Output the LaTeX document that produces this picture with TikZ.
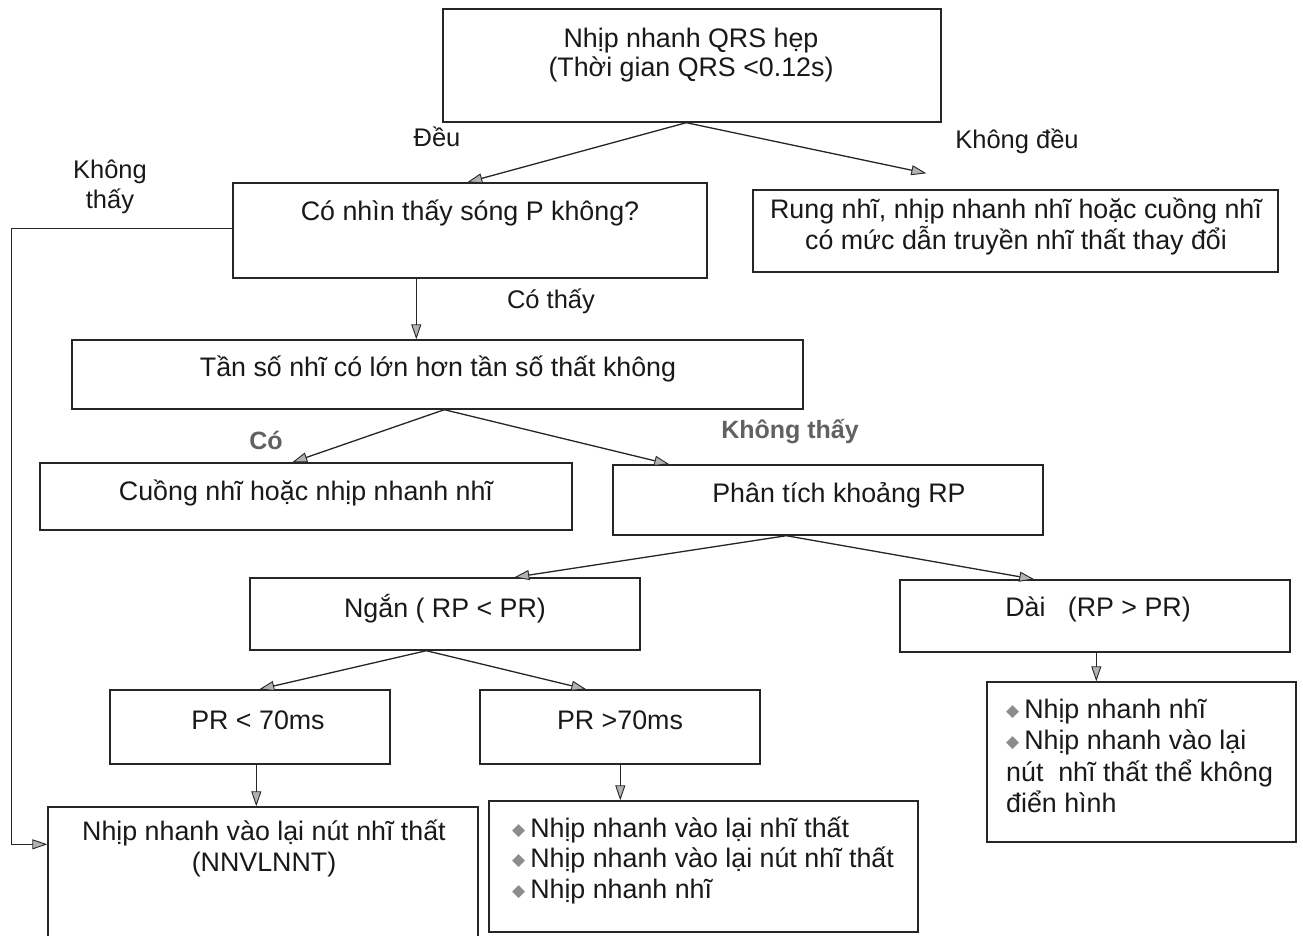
\documentclass[tikz,border=0pt]{standalone}
\usepackage{fontspec}
\setmainfont{Liberation Sans}
\newfontfamily\symfont{DejaVu Sans}
\usetikzlibrary{arrows.meta,fit}
% small grey diamond used as list bullet
\newcommand\bulletmark{\raisebox{2pt}{\textcolor{black!45}{\symfont\fontsize{17}{17}\selectfont ◆}}\hspace{5pt}}

\begin{document}
\begin{tikzpicture}[x=1pt,y=-1pt,
  frame/.style={draw=black!85, line width=1.4pt, inner sep=0pt},
  txt/.style={inner sep=0pt, align=center, text=black!90, font=\fontsize{26.8}{31}\selectfont},
  toptxt/.style={txt, font=\fontsize{26.8}{29}\selectfont},
  listtxt/.style={inner sep=0pt, align=left, anchor=west, text=black!90},
  lbl/.style={inner sep=0pt, align=center, text=black!90, font=\fontsize{25.5}{30}\selectfont},
  boldlbl/.style={inner sep=0pt, text=black!62, font=\fontsize{25}{30}\selectfont\bfseries},
  flow/.style={draw=black!85, line width=1.3pt,
    -{Triangle[length=15pt,width=10pt,fill=black!30,line width=0.9pt]}},
]
\clip (0,0) rectangle (1303,935);
\fill[white] (0,0) rectangle (1303,935);

% boxes
\node[frame, fit={(443,9) (941,122)}] (a) {};
\node[frame, fit={(233,183) (707,278)}] (b) {};
\node[frame, fit={(753,190) (1278,272)}] (c) {};
\node[frame, fit={(72,340) (803,409)}] (d) {};
\node[frame, fit={(40,463) (572,530)}] (e) {};
\node[frame, fit={(613,465) (1043,535)}] (g) {};
\node[frame, fit={(250,578) (640,650)}] (h) {};
\node[frame, fit={(900,580) (1290,652)}] (i) {};
\node[frame, fit={(987,682) (1296,842)}] (j) {};
\node[frame, fit={(110,690) (390,764)}] (k) {};
\node[frame, fit={(480,690) (760,764)}] (l) {};
\node[frame, fit={(48,807) (478,970)}] (f) {};
\node[frame, fit={(489,801) (918,932)}] (m) {};

% box texts
\node[toptxt] (a-t) at (691,55) {Nhịp nhanh QRS hẹp\\(Thời gian QRS <0.12s)};
\node[txt] (b-t) at (470,213) {Có nhìn thấy sóng P không?};
\node[txt] (c-t) at (1016,226) {Rung nhĩ, nhịp nhanh nhĩ hoặc cuồng nhĩ\\có mức dẫn truyền nhĩ thất thay đổi};
\node[txt] (d-t) at (438,369) {Tần số nhĩ có lớn hơn tần số thất không};
\node[txt] (e-t) at (306,493) {Cuồng nhĩ hoặc nhịp nhanh nhĩ};
\node[txt] (g-t) at (839,495) {Phân tích khoảng RP};
\node[txt] (h-t) at (445,609) {Ngắn ( RP < PR)};
\node[txt] (i-t) at (1098,609) {Dài~~~(RP > PR)};
\node[txt] (k-t) at (258,720) {PR < 70ms};
\node[txt] (l-t) at (620,720) {PR >70ms};
\node[txt] (f-t) at (264,848) {Nhịp nhanh vào lại nút nhĩ thất\\(NNVLNNT)};
\node[listtxt, font=\fontsize{26.8}{30.5}\selectfont] (m-t) at (512,860)
  {\bulletmark Nhịp nhanh vào lại nhĩ thất\\
   \bulletmark Nhịp nhanh vào lại nút nhĩ thất\\
   \bulletmark Nhịp nhanh nhĩ};
\node[listtxt, font=\fontsize{26.8}{31.3}\selectfont] (j-t) at (1006,756)
  {\bulletmark Nhịp nhanh nhĩ\\
   \bulletmark Nhịp nhanh vào lại\\
   nút~~nhĩ thất thể không\\
   điển hình};

% branch labels
\node[lbl] (l-deu) at (437,137) {Đều};
\node[lbl] (l-kdeu) at (1017,141) {Không đều};
\node[lbl] (l-kthay) at (110,187) {Không\\thấy};
\node[lbl] (l-cothay) at (551,301) {Có thấy};
\node[boldlbl] (l-co) at (266,440) {Có};
\node[boldlbl] (l-kthay2) at (790,432) {Không thấy};

% connectors
\draw[flow] ([xshift=244pt]a.south west) -- ([xshift=235pt]b.north west);
\draw[flow] ([xshift=244pt]a.south west) -- ([xshift=174pt,yshift=16pt]c.north west);
\draw[flow] ([yshift=2pt]b.west) -- ++(-221,0) |- ([yshift=-38pt]f.north west);
\draw[flow] ([xshift=184pt]b.south west) -- ([xshift=345pt]d.north west);
\draw[flow] ([xshift=373pt]d.south west) -- ([xshift=253pt]e.north west);
\draw[flow] ([xshift=373pt]d.south west) -- ([xshift=57pt]g.north west);
\draw[flow] ([xshift=174pt]g.south west) -- ([xshift=265pt]h.north west);
\draw[flow] ([xshift=174pt]g.south west) -- ([xshift=135pt]i.north west);
\draw[flow] ([xshift=177pt]h.south west) -- ([xshift=150pt]k.north west);
\draw[flow] ([xshift=177pt]h.south west) -- ([xshift=107pt]l.north west);
\draw[flow] ([xshift=147pt]k.south west) -- ([xshift=209pt]f.north west);
\draw[flow] ([xshift=141pt]l.south west) -- ([xshift=132pt]m.north west);
\draw[flow] ([xshift=197pt]i.south west) -- ([xshift=110pt]j.north west);
\end{tikzpicture}
\end{document}
